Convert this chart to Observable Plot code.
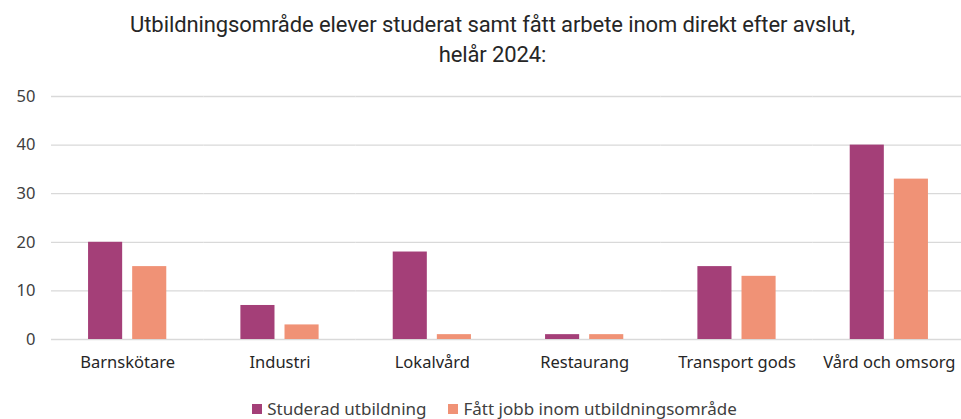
<!DOCTYPE html>
<html><head><meta charset="utf-8">
<script src="https://cdn.jsdelivr.net/npm/d3@7"></script>
<script src="https://cdn.jsdelivr.net/npm/@observablehq/plot@0.6"></script>
<style>
html,body{margin:0;padding:0;background:#fff;width:961px;height:419px;overflow:hidden;}
#title{font-family:"Roboto",sans-serif;font-size:22px;line-height:30px;color:#262626;text-align:center;padding-top:10px;padding-left:24px;height:60px;letter-spacing:-0.1px;}
#legend{display:flex;justify-content:center;gap:22px;font-family:"Noto Sans",sans-serif;font-size:17px;line-height:22px;color:#404040;margin-top:18px;margin-left:28px;}
#legend span.sw{display:inline-block;width:10px;height:10px;margin-right:5px;}
#legend div{display:flex;align-items:center;}
#chart svg{display:block;overflow:hidden;}
</style></head>
<body>
<div id="title">Utbildningsområde elever studerat samt fått arbete inom direkt efter avslut,<br>helår 2024:</div>
<div id="chart"></div>
<div id="legend"></div>
<script>
const categories = ["Barnskötare","Industri","Lokalvård","Restaurang","Transport gods","Vård och omsorg"];
const seriesNames = ["Studerad utbildning","Fått jobb inom utbildningsområde"];
const studerad = [20,7,18,1,15,40];
const fattJobb = [15,3,1,1,13,33];
const yTicks = [0,10,20,30,40,50];
const colors = ["#A43F78","#F09276"];

const data = categories.flatMap((c,i)=>[
  {category:c, series:seriesNames[0], value:studerad[i]},
  {category:c, series:seriesNames[1], value:fattJobb[i]}
]);

const chart = Plot.plot({
  width:961, height:310,
  marginLeft:50, marginRight:0, marginTop:26, marginBottom:41,
  style:{fontFamily:"Noto Sans, sans-serif", fontSize:"16.5px", color:"#404040", background:"#fff"},
  fx:{domain:categories, padding:0, label:null, round:false, range:[51, 965]},
  x:{domain:seriesNames, axis:null, paddingInner:0.227, paddingOuter:0.84, round:false},
  y:{domain:[0,50], axis:null},
  color:{domain:seriesNames, range:colors},
  marks:[
    Plot.ruleY(yTicks, {stroke:"#d9d9d9", strokeWidth:1.3}),
    Plot.axisY({ticks:yTicks, tickSize:0, tickPadding:16, label:null, fill:"#404040"}),
    Plot.barY(data, {fx:"category", x:"series", y:"value", fill:"series"}),
    Plot.axisFx({anchor:"bottom", tickSize:0, tickPadding:17, label:null, fill:"#262626"})
  ]
});
document.getElementById("chart").appendChild(chart);

const leg = document.getElementById("legend");
seriesNames.forEach((s,i)=>{
  const d = document.createElement("div");
  d.innerHTML = `<span class="sw" style="background:${colors[i]}"></span>${s}`;
  leg.appendChild(d);
});
</script>
</body></html>
